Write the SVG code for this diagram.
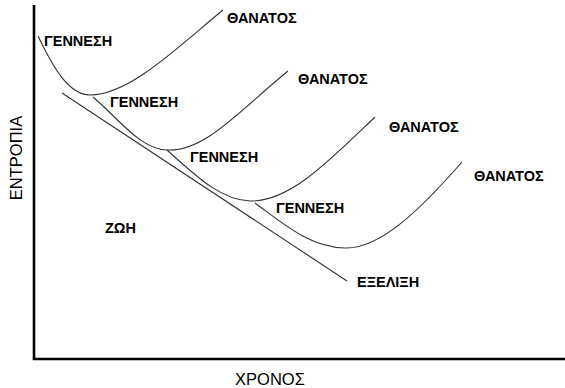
<svg xmlns="http://www.w3.org/2000/svg" width="565" height="388" viewBox="0 0 565 388">
<style>
.curve{fill:none;stroke:#333;stroke-width:1.1}
.axis{fill:none;stroke:#000;stroke-width:2.6}
.lb{font-family:"Liberation Sans",Arial,sans-serif;font-weight:bold;font-size:14.5px;fill:#000}
.ax{font-family:"Liberation Sans",Arial,sans-serif;font-size:16.5px;fill:#000}
</style>
<rect width="565" height="388" fill="#fff"/>
<g id="axes">
<path class="axis" d="M34,5 V359 H565"/>
</g>
<g id="connectors">
<path class="curve" d="M38,36 C52,65 68,95 90,95 C130,95 180,45 223,10"/>
<path class="curve" d="M93,97 C120,120 140,149 167,150 C205,152 240,110 288,71"/>
<path class="curve" d="M167,150 C195,175 220,200 250,201 C290,202 330,160 375,117"/>
<path class="curve" d="M255,203 C285,225 310,247 345,248 C380,249 420,210 462,162"/>
<path class="curve" d="M62,93 L347,281"/>
</g>
<g id="genesi1"><text class="lb" x="44" y="46">ΓΕΝΝΕΣΗ</text></g>
<g id="genesi2"><text class="lb" x="110" y="107">ΓΕΝΝΕΣΗ</text></g>
<g id="genesi3"><text class="lb" x="190" y="162">ΓΕΝΝΕΣΗ</text></g>
<g id="genesi4"><text class="lb" x="276" y="213">ΓΕΝΝΕΣΗ</text></g>
<g id="thanatos1"><text class="lb" x="227" y="23">ΘΑΝΑΤΟΣ</text></g>
<g id="thanatos2"><text class="lb" x="298" y="84">ΘΑΝΑΤΟΣ</text></g>
<g id="thanatos3"><text class="lb" x="389" y="132">ΘΑΝΑΤΟΣ</text></g>
<g id="thanatos4"><text class="lb" x="474" y="181">ΘΑΝΑΤΟΣ</text></g>
<g id="exelixi"><text class="lb" x="357" y="287">ΕΞΕΛΙΞΗ</text></g>
<g id="zoi"><text class="lb" x="105" y="233">ΖΩΗ</text></g>
<g id="entropia"><text class="ax" transform="translate(22,158) rotate(-90)" text-anchor="middle">ΕΝΤΡΟΠΙΑ</text></g>
<g id="xronos"><text class="ax" x="270" y="385" text-anchor="middle">ΧΡΟΝΟΣ</text></g>
</svg>
